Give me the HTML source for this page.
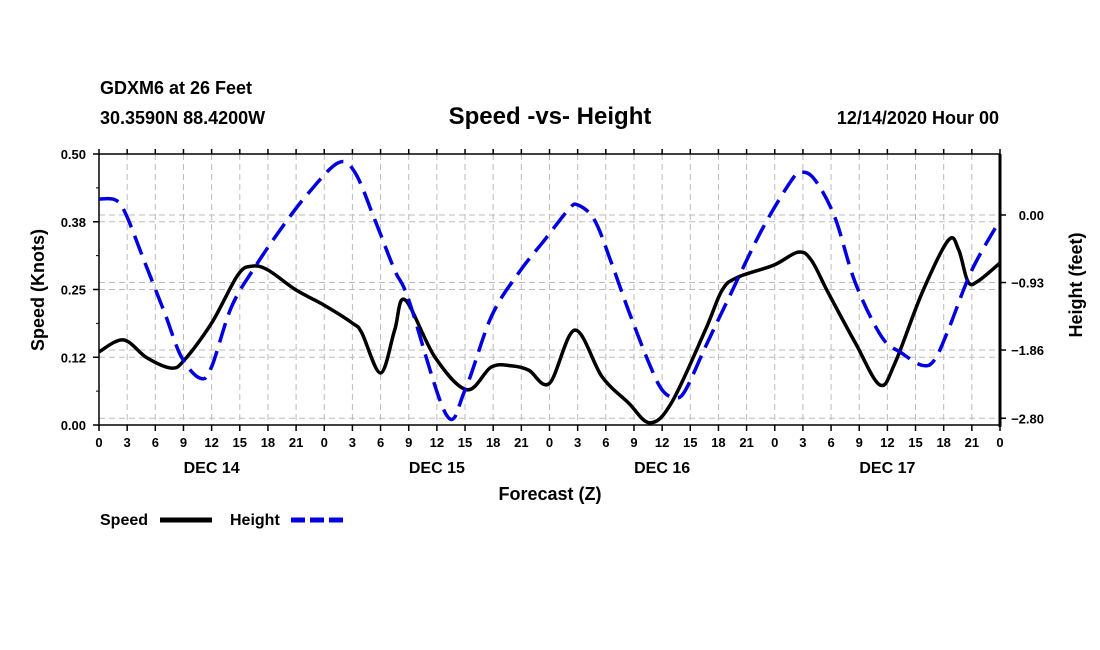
<!DOCTYPE html>
<html><head><meta charset="utf-8"><style>
body{margin:0;background:#fff;}
svg{display:block;font-family:"Liberation Sans",sans-serif;font-weight:bold;}
</style></head><body>
<svg id="chart" width="1100" height="650" viewBox="0 0 1100 650">
<text x="100" y="94" font-size="18">GDXM6 at 26 Feet</text>
<text x="100" y="124" font-size="18">30.3590N 88.4200W</text>
<text x="550" y="124" font-size="24" text-anchor="middle">Speed -vs- Height</text>
<text x="999" y="124" font-size="18" text-anchor="end">12/14/2020 Hour 00</text>
<g id="grid"></g><g id="axes"></g><g id="series"></g>
<text x="550" y="500" font-size="18" text-anchor="middle">Forecast (Z)</text>
<text transform="translate(44,290) rotate(-90)" font-size="18" text-anchor="middle">Speed (Knots)</text>
<text transform="translate(1082,285) rotate(-90)" font-size="18" text-anchor="middle">Height (feet)</text>
<g>
<text x="100" y="525" font-size="16">Speed</text>
<line x1="160" y1="520" x2="212" y2="520" stroke="#000" stroke-width="5"/>
<text x="230" y="525" font-size="16">Height</text>
<line x1="291" y1="520" x2="343" y2="520" stroke="#0000e0" stroke-width="5" stroke-dasharray="14,5"/>
</g>
</svg>
<script>
const speedHours=[0,2.6,5.1,7.7,9.1,12,14.8,16.3,18,21,24,27,28,30,31.5,32.6,35.8,39.2,41.8,44,45.8,48,50.7,53.6,56.4,58.7,61,64.6,66.4,68.1,71.9,74.5,75.9,77.7,80.6,83.2,84.8,87.7,90.5,91.6,92.6,93.7,96];
const speedValues=[.135,.157,.124,.105,.120,.188,.277,.293,.286,.249,.221,.188,.170,.096,.175,.231,.125,.065,.107,.109,.101,.077,.175,.089,.041,.004,.041,.175,.249,.273,.295,.319,.304,.244,.151,.074,.114,.244,.341,.323,.264,.266,.299];
const heightHours=[0,1.7,2.8,4.9,7,8.8,10.8,12,14.1,16.6,19.5,22.3,25.5,27.3,29.4,31.5,33,37,39,41.8,44.7,47.5,50,51,52.8,54.6,56.4,58.6,60,61.4,62.5,64.6,67,70.6,73.8,74.9,76.3,78.4,80.6,83.4,85.5,87.7,89,90.5,93,96];
const heightValues=[.22,.21,.03,-.66,-1.35,-1.96,-2.25,-2.09,-1.27,-.72,-.17,.30,.72,.58,-.07,-.76,-1.17,-2.75,-2.41,-1.40,-.80,-.34,.07,.14,-.07,-.66,-1.31,-2.04,-2.41,-2.52,-2.41,-1.82,-1.17,-.21,.48,.59,.48,-.03,-.94,-1.68,-1.90,-2.07,-2.00,-1.58,-.76,-.07];
const speedTicks=["0.00","0.12","0.25","0.38","0.50"];
const speedTickValues=[0,0.125,0.25,0.375,0.5];
const heightTicks=["0.00","\u22120.93","\u22121.86","\u22122.80"];
const heightTickValues=[0,-0.93,-1.86,-2.80];
const dayLabels=["DEC 14","DEC 15","DEC 16","DEC 17"];
const X0=99,X1=1000,Y0=425,Y1=154;
const xs=h=>X0+(X1-X0)*h/96;
const ys=s=>Y0-(Y0-Y1)*s/0.5;
const yh=f=>215-72.6*f;
const NS="http://www.w3.org/2000/svg";
function mk(p,t,a){const e=document.createElementNS(NS,t);for(const k in a)e.setAttribute(k,a[k]);p.appendChild(e);return e;}
const grid=document.getElementById('grid'),axes=document.getElementById('axes'),ser=document.getElementById('series');
for(let h=3;h<96;h+=3){const l=mk(grid,'line',{x1:xs(h),x2:xs(h),y1:Y1,y2:Y0,stroke:'#bbb','stroke-dasharray':'6,4'});

}
speedTickValues.forEach((v,i)=>{if(i>0&&i<4){const l=mk(grid,'line',{x1:X0,x2:X1,y1:ys(v),y2:ys(v),stroke:'#bbb','stroke-dasharray':'6,4'});

}
const t=mk(axes,'text',{x:86,y:ys(v)+5,'font-size':13,'text-anchor':'end'});t.textContent=speedTicks[i];


mk(axes,'line',{x1:X0-6,x2:X0,y1:ys(v),y2:ys(v),stroke:'#000','stroke-width':1.5});
if(i<4)mk(axes,'line',{x1:X0-3,x2:X0,y1:ys(v+0.0625),y2:ys(v+0.0625),stroke:'#000'});});
heightTickValues.forEach((v,i)=>{const l=mk(grid,'line',{x1:X0,x2:X1,y1:yh(v),y2:yh(v),stroke:'#bbb','stroke-dasharray':'6,4'});


mk(axes,'line',{x1:X1,x2:X1+6,y1:yh(v),y2:yh(v),stroke:'#000','stroke-width':1.5});
const t=mk(axes,'text',{x:1044,y:yh(v)+5,'font-size':13,'text-anchor':'end'});t.textContent=heightTicks[i];

});
mk(axes,'line',{x1:X0,x2:X1,y1:Y0,y2:Y0,stroke:'#000','stroke-width':1.5});
mk(axes,'line',{x1:X0,x2:X1,y1:Y1,y2:Y1,stroke:'#000','stroke-width':1.5});
mk(axes,'line',{x1:X0,x2:X0,y1:Y1,y2:Y0,stroke:'#000','stroke-width':1.5});
mk(axes,'line',{x1:X1,x2:X1,y1:Y1,y2:Y0+2,stroke:'#000','stroke-width':3});
for(let h=0;h<=96;h+=3){mk(axes,'line',{x1:xs(h),x2:xs(h),y1:Y0,y2:Y0+6,stroke:'#000','stroke-width':1.5});
mk(axes,'line',{x1:xs(h),x2:xs(h),y1:Y1-5,y2:Y1,stroke:'#000','stroke-width':1.5});
const t=mk(axes,'text',{x:xs(h),y:Y0+22,'font-size':13,'text-anchor':'middle'});t.textContent=String(h%24);

}
dayLabels.forEach((d,i)=>{const t=mk(axes,'text',{x:xs(12+24*i),y:Y0+48,'font-size':16,'text-anchor':'middle'});t.textContent=d;

});
function path(hs,vs,fy){const p=hs.map((h,i)=>[xs(h),fy(vs[i])]);let d='M'+p[0][0]+','+p[0][1];
for(let i=0;i<p.length-1;i++){const a=p[Math.max(0,i-1)],b=p[i],c=p[i+1],e=p[Math.min(p.length-1,i+2)];
d+=`C${b[0]+(c[0]-a[0])/6},${b[1]+(c[1]-a[1])/6} ${c[0]-(e[0]-b[0])/6},${c[1]-(e[1]-b[1])/6} ${c[0]},${c[1]}`;}return d;}
const sp=mk(ser,'path',{d:path(speedHours,speedValues,ys),fill:'none',stroke:'#000','stroke-width':3.5});


const hp=mk(ser,'path',{d:path(heightHours,heightValues,yh),fill:'none',stroke:'#0000e0','stroke-width':3.5,'stroke-dasharray':'20,9'});


</script>
</body></html>
